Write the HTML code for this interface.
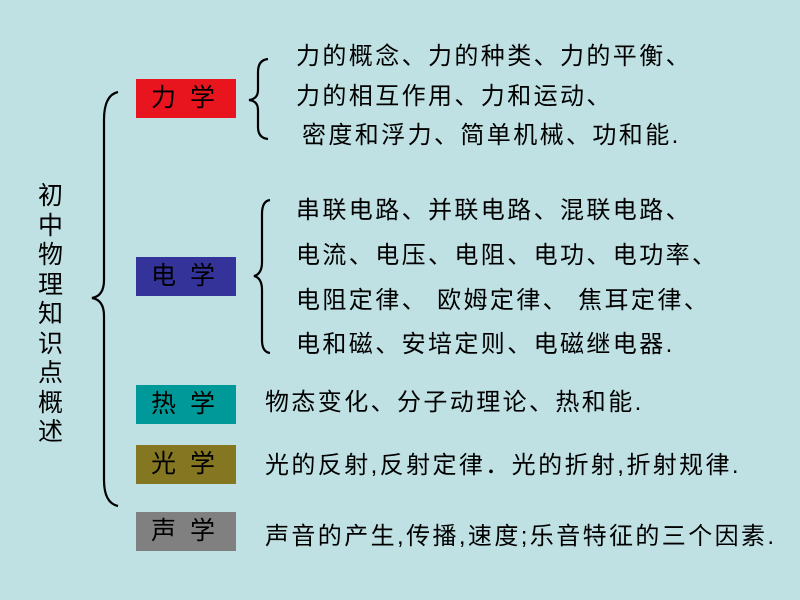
<!DOCTYPE html>
<html><head><meta charset="utf-8"><style>
body{margin:0;width:800px;height:600px;background:#bfe1e4;position:relative;overflow:hidden;font-family:"Liberation Sans","Noto Sans CJK SC",sans-serif;color:#000}
.t{position:absolute;font-size:24px;line-height:28px;white-space:nowrap;letter-spacing:2.4px}
.b{position:absolute;left:136px;width:100px;height:39px;font-size:25px;line-height:39px;text-align:center;letter-spacing:14px;text-indent:8px}
</style></head><body>
<svg width="800" height="600" style="position:absolute;left:0;top:0" fill="none" stroke="#000" stroke-width="2.2">
<path d="M118,92 Q104,95 104,120 L104,280 Q104,296 92,298 Q104,300 104,316 L104,480 Q104,503 118,506"/>
<path d="M268,59 Q258,60 258,72 L258,90 Q258,99 249,100 Q258,101 258,110 L258,127 Q258,138 268,139"/>
<path d="M270,200 Q262,201 262,214 L262,262 Q262,274 254,276 Q262,278 262,290 L262,340 Q262,352 270,353"/>
</svg>
<div class="t" style="left:38px;top:182px;width:26px;font-size:25px;line-height:29.5px;white-space:normal;letter-spacing:0">初中物理知识点概述</div>
<div class="b" style="top:79px;background:#e8141e">力学</div>
<div class="b" style="top:257px;background:#333399">电学</div>
<div class="b" style="top:385px;background:#009999">热学</div>
<div class="b" style="top:445px;background:#857722">光学</div>
<div class="b" style="top:512px;background:#808080">声学</div>
<div class="t" style="left:296px;top:43px">力的概念、力的种类、力的平衡、</div>
<div class="t" style="left:296px;top:83px">力的相互作用、力和运动、</div>
<div class="t" style="left:302px;top:122px">密度和浮力、简单机械、功和能.</div>
<div class="t" style="left:296px;top:197px">串联电路、并联电路、混联电路、</div>
<div class="t" style="left:296px;top:242px">电流、电压、电阻、电功、电功率、</div>
<div class="t" style="left:296px;top:287px">电阻定律、 欧姆定律、 焦耳定律、</div>
<div class="t" style="left:296px;top:331px">电和磁、安培定则、电磁继电器.</div>
<div class="t" style="left:265px;top:389px">物态变化、分子动理论、热和能.</div>
<div class="t" style="left:265px;top:452px">光的反射,反射定律．光的折射,折射规律.</div>
<div class="t" style="left:265px;top:523px">声音的产生,传播,速度;乐音特征的三个因素.</div>
</body></html>
